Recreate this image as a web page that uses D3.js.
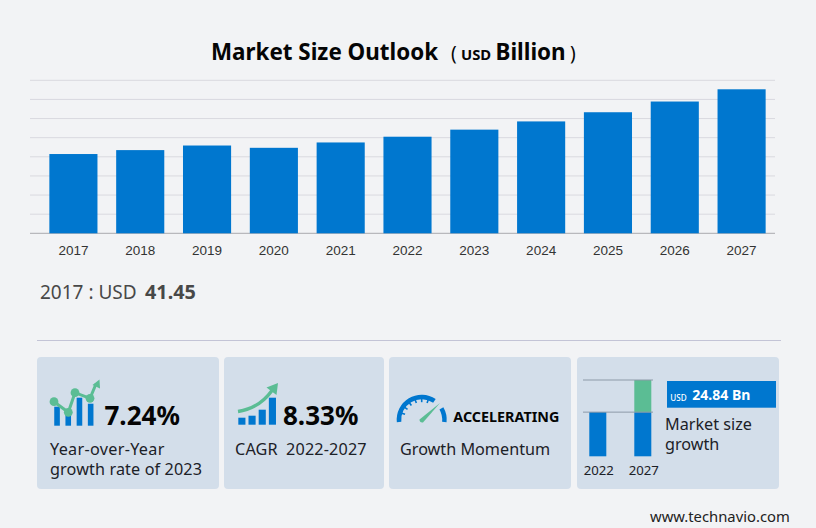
<!DOCTYPE html>
<html>
<head>
<meta charset="utf-8">
<script src="https://cdn.jsdelivr.net/npm/d3@7"></script>
<style>
    html, body { margin: 0; padding: 0; background: #f2f3f5; }
    svg { display: block; }
    text { font-family: "Noto Sans", sans-serif; }
</style>
</head>
<body>
<svg id="chart" width="816" height="528"></svg>
<script>
var years = ["2017", "2018", "2019", "2020", "2021", "2022", "2023", "2024", "2025", "2026", "2027"];
var marketSize = [41.45, 43.5, 45.9, 44.7, 47.5, 50.5, 54.2, 58.5, 63.3, 68.9, 75.3];
var gridTicks = [0, 10, 20, 30, 40, 50, 60, 70, 80];

var yoyIconBars = [19, 13, 28, 22];
var yoyIconLine = [[54, 401.7], [68.3, 412.3], [75, 392.7], [90, 398.3], [96, 384]];
var cagrIconBars = [7, 9, 15, 27];
var gaugeArcs = [[-96, 34], [60, 96]];
var gaugeTicks = [-72, -54, -36, -18, 0, 18];

var miniYears = ["2022", "2027"];
var miniBase = [44, 44];
var miniGrowth = [0, 32];

var BLUE = "#0077cf", GREEN = "#5bbd94", CARD = "#d3deea", INK = "#1c2127";

var svg = d3.select("#chart");

/**** Title ****/

var title = svg.append("text").attr("y", 60).attr("fill", "#050505");
title.append("tspan").attr("x", 211).attr("font-size", 22.4).attr("font-weight", 700).text("Market Size Outlook");
title.append("tspan").attr("x", 451).attr("font-size", 19).text("(");
title.append("tspan").attr("x", 461).attr("font-size", 14.8).attr("font-weight", 700).text("USD");
title.append("tspan").attr("x", 495.5).attr("font-size", 22.4).attr("font-weight", 700).text("Billion");
title.append("tspan").attr("x", 570).attr("font-size", 19).text(")");

/**** Main bars ****/

var x = d3.scaleBand().domain(years).range([40, 775]).paddingInner(0.28).paddingOuter(0.14);
var y = d3.scaleLinear().domain([0, 80]).range([233.3, 80.3]);

var grid = svg.append("g")
    .attr("transform", "translate(30,0)")
    .call(d3.axisRight(y).tickValues(gridTicks).tickSize(745).tickFormat("").offset(0));
grid.select(".domain").remove();
grid.selectAll("line").attr("stroke", "#d9d9df").attr("stroke-width", 1);
grid.selectAll("g.tick").filter(function(d) { return d === 0; }).select("line").attr("stroke", "#a9a9ae");

svg.append("g").selectAll("rect")
    .data(years)
    .join("rect")
    .attr("x", function(d) { return x(d); })
    .attr("width", x.bandwidth())
    .attr("y", function(d, i) { return y(marketSize[i]); })
    .attr("height", function(d, i) { return y(0) - y(marketSize[i]); })
    .attr("fill", BLUE);

var xAxis = svg.append("g")
    .attr("transform", "translate(0,233.3)")
    .call(d3.axisBottom(x).tickSize(0).tickPadding(12.5));
xAxis.select(".domain").remove();
xAxis.selectAll("text")
    .style("font-family", "'Liberation Sans', Arial, sans-serif")
    .attr("font-size", 13.5)
    .attr("fill", "#333");

/**** Readout and separator ****/

var readout = svg.append("text").attr("y", 299).attr("fill", "#484848");
readout.append("tspan").attr("x", 40).attr("font-size", 19).text("2017 : USD");
readout.append("tspan").attr("x", 145).attr("font-size", 19.8).attr("font-weight", 700).text(marketSize[0]);

svg.append("line")
    .attr("x1", 37).attr("x2", 781).attr("y1", 340.5).attr("y2", 340.5)
    .attr("stroke", "#c3c4d6");

/**** Cards ****/

var cards = [[37, 182], [224, 160], [389, 182], [577, 202]];
svg.append("g").selectAll("rect")
    .data(cards)
    .join("rect")
    .attr("x", function(d) { return d[0]; })
    .attr("y", 357)
    .attr("width", function(d) { return d[1]; })
    .attr("height", 132)
    .attr("rx", 4)
    .attr("fill", CARD);

function label(px, py, size, str, weight, fill) {
    return svg.append("text")
        .attr("x", px).attr("y", py)
        .attr("font-size", size)
        .attr("font-weight", weight || 400)
        .attr("fill", fill || INK)
        .text(str);
}

/**** Card 1 : year-over-year ****/

var yoyX = d3.scaleBand().domain(d3.range(yoyIconBars.length)).range([52, 95.7]).paddingInner(0.5).paddingOuter(0.2);
svg.append("g").selectAll("rect")
    .data(yoyIconBars)
    .join("rect")
    .attr("x", function(d, i) { return yoyX(i); })
    .attr("y", function(d) { return 425.7 - d; })
    .attr("width", yoyX.bandwidth())
    .attr("height", function(d) { return d; })
    .attr("fill", BLUE);

svg.append("path")
    .attr("d", d3.line()(yoyIconLine))
    .attr("fill", "none")
    .attr("stroke", GREEN)
    .attr("stroke-width", 3);
svg.append("g").selectAll("circle")
    .data(yoyIconLine.slice(0, 4))
    .join("circle")
    .attr("cx", function(d) { return d[0]; })
    .attr("cy", function(d) { return d[1]; })
    .attr("r", 4.4)
    .attr("fill", GREEN);
svg.append("path").attr("d", "M92.5,385L99.5,379.5L100,388.5Z").attr("fill", GREEN);

label(104.5, 425, 26, "7.24%", 700, "#050505");
label(50, 454.5, 16.2, "Year-over-Year").attr("letter-spacing", 0.3);
label(50, 475, 16.2, "growth rate of 2023").attr("letter-spacing", 0.12);

/**** Card 2 : CAGR ****/

var cagrX = d3.scaleBand().domain(d3.range(cagrIconBars.length)).range([237.3, 277]).paddingInner(0.3).paddingOuter(0.1);
svg.append("g").selectAll("rect")
    .data(cagrIconBars)
    .join("rect")
    .attr("x", function(d, i) { return cagrX(i); })
    .attr("y", function(d) { return 424.7 - d; })
    .attr("width", cagrX.bandwidth())
    .attr("height", function(d) { return d; })
    .attr("fill", BLUE);

svg.append("path")
    .attr("d", "M238,411.5C252,409.5 263,403 272,390.5")
    .attr("fill", "none")
    .attr("stroke", GREEN)
    .attr("stroke-width", 3.4);
svg.append("path").attr("d", "M266.5,387.5L278,383L276.5,395Z").attr("fill", GREEN);

label(283, 425, 26, "8.33%", 700, "#050505");
label(235, 455, 16.2, "CAGR 2022-2027").attr("word-spacing", 4).attr("letter-spacing", 0.15);

/**** Card 3 : momentum gauge ****/

var gauge = svg.append("g").attr("transform", "translate(421.7,419.7)");
var gaugeArc = d3.arc().innerRadius(20.5).outerRadius(25);
gauge.selectAll("path.band")
    .data(gaugeArcs)
    .join("path")
    .attr("class", "band")
    .attr("d", function(d) {
        return gaugeArc({ startAngle: d[0] * Math.PI / 180, endAngle: d[1] * Math.PI / 180 });
    })
    .attr("fill", BLUE);
gauge.selectAll("line")
    .data(gaugeTicks)
    .join("line")
    .attr("x1", function(d) { return 17.5 * Math.sin(d * Math.PI / 180); })
    .attr("y1", function(d) { return -17.5 * Math.cos(d * Math.PI / 180); })
    .attr("x2", function(d) { return 21 * Math.sin(d * Math.PI / 180); })
    .attr("y2", function(d) { return -21 * Math.cos(d * Math.PI / 180); })
    .attr("stroke", BLUE)
    .attr("stroke-width", 1.6);
svg.append("path").attr("d", "M419.5,419.5L440,403L423,422.5Q419.5,423 419.5,419.5Z").attr("fill", GREEN);

label(453.3, 422, 15, "ACCELERATING", 700, "#050505").attr("textLength", 106).attr("lengthAdjust", "spacingAndGlyphs");
label(400, 455, 16.2, "Growth Momentum");

/**** Card 4 : market size growth ****/

var miniX = d3.scaleBand().domain(miniYears).range([575.3, 665.3]).paddingInner(0.622).paddingOuter(0.311);
var miniY = d3.scaleLinear().domain([0, 76]).range([456.3, 380]);

svg.append("g").selectAll("rect.base")
    .data(miniYears)
    .join("rect")
    .attr("class", "base")
    .attr("x", function(d) { return miniX(d); })
    .attr("y", function(d, i) { return miniY(miniBase[i]); })
    .attr("width", miniX.bandwidth())
    .attr("height", function(d, i) { return miniY(0) - miniY(miniBase[i]); })
    .attr("fill", BLUE);
svg.append("g").selectAll("rect.growth")
    .data(miniYears)
    .join("rect")
    .attr("class", "growth")
    .attr("x", function(d) { return miniX(d); })
    .attr("y", function(d, i) { return miniY(miniBase[i] + miniGrowth[i]); })
    .attr("width", miniX.bandwidth())
    .attr("height", function(d, i) { return miniY(0) - miniY(miniGrowth[i]); })
    .attr("fill", GREEN);

svg.append("g").selectAll("line")
    .data([44, 76])
    .join("line")
    .attr("x1", 583).attr("x2", 653)
    .attr("y1", function(d) { return miniY(d); })
    .attr("y2", function(d) { return miniY(d); })
    .attr("stroke", "#8d9aa8");

svg.append("g").selectAll("text")
    .data(miniYears)
    .join("text")
    .attr("x", function(d) { return miniX(d) + miniX.bandwidth() / 2 + 1; })
    .attr("y", 475)
    .attr("text-anchor", "middle")
    .attr("font-size", 13.2)
    .attr("fill", INK)
    .text(function(d) { return d; });

svg.append("rect").attr("x", 667).attr("y", 381).attr("width", 109).attr("height", 26.7).attr("fill", BLUE);
label(670.3, 400.5, 9.6, "USD", 500, "#fff").attr("textLength", 16.4).attr("lengthAdjust", "spacingAndGlyphs");
label(692.3, 400, 14, "24.84 Bn", 700, "#fff");
label(665, 430, 16.2, "Market size");
label(665, 450, 16.2, "growth");

label(650, 522, 14.8, "www.technavio.com", 400, "#222");
</script>
</body>
</html>
